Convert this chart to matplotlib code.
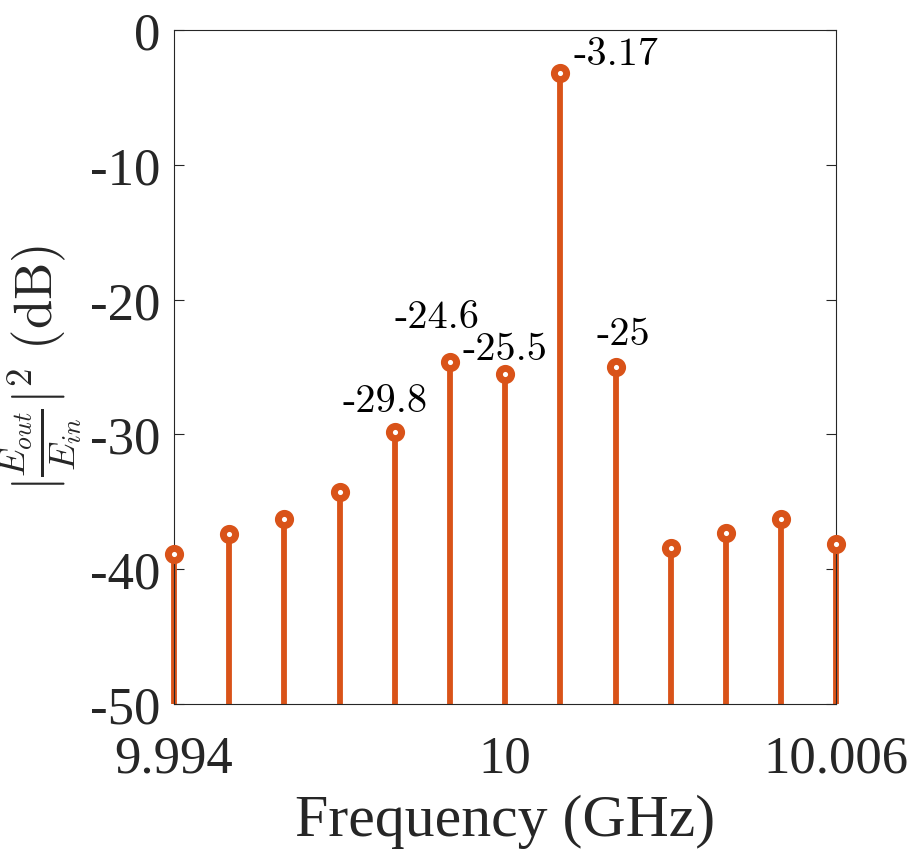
import numpy as np
import matplotlib
matplotlib.use("Agg")
import matplotlib.pyplot as plt

plt.rcParams['font.family'] = ['Liberation Serif', 'DejaVu Serif']
plt.rcParams['mathtext.fontset'] = 'cm'

# frequency (GHz) and normalized output power (dB)
freq = [9.994, 9.995, 9.996, 9.997, 9.998, 9.999, 10.000,
        10.001, 10.002, 10.003, 10.004, 10.005, 10.006]
power_db = [-38.9, -37.4, -36.3, -34.3, -29.8, -24.6, -25.5,
            -3.17, -25.0, -38.4, -37.3, -36.3, -38.1]

# labelled peaks: (text, x, y)
peak_labels = ['-29.8', '-24.6', '-25.5', '-3.17', '-25']
label_x = [9.99783, 9.99876, 10.0000, 10.0020, 10.00215]
label_y = [-28.3, -22.0, -24.4, -2.5, -23.3]

xticks = [9.994, 10.0, 10.006]
xtick_labels = ['9.994', '10', '10.006']
yticks = [-50, -40, -30, -20, -10, 0]

orange = '#D95319'
dark = '#262626'

fig = plt.figure(figsize=(9.11, 8.53), dpi=100)
ax = fig.add_axes([0.191, 0.1735, 0.727, 0.7902])

ml, sl, bl = ax.stem(freq, power_db, bottom=-50)
plt.setp(sl, color=orange, linewidth=4.2, clip_on=False)
plt.setp(ml, color=orange, marker='o', markersize=8.8, markeredgewidth=5,
         markerfacecolor='white', markeredgecolor=orange, clip_on=False, zorder=3)
bl.set_visible(False)

for txt, tx, ty in zip(peak_labels, label_x, label_y):
    ax.text(tx, ty, txt, ha='center', va='baseline', fontsize=29,
            family='cmr10', color='black')

ax.set_xlim(9.994, 10.006)
ax.set_ylim(-50, 0)
ax.set_xticks(xticks)
ax.set_xticklabels(xtick_labels)
ax.set_yticks(yticks)
ax.set_yticklabels([str(v) for v in yticks])

ax.tick_params(direction='in', length=7, width=0.8, colors=dark,
               labelsize=38, right=True, top=False, pad=10)
ax.tick_params(axis='x', pad=22)
for s in ax.spines.values():
    s.set_color(dark)
    s.set_linewidth(0.8)

ax.set_xlabel('Frequency (GHz)', fontsize=43, color=dark, labelpad=8)
ax.set_ylabel(r'$|\frac{E_{out}}{E_{in}}|^2\ \mathrm{(dB)}$', fontsize=38,
              color=dark)
ax.yaxis.set_label_coords(-0.137, 0.5)

fig.savefig('out.png', dpi=100)
